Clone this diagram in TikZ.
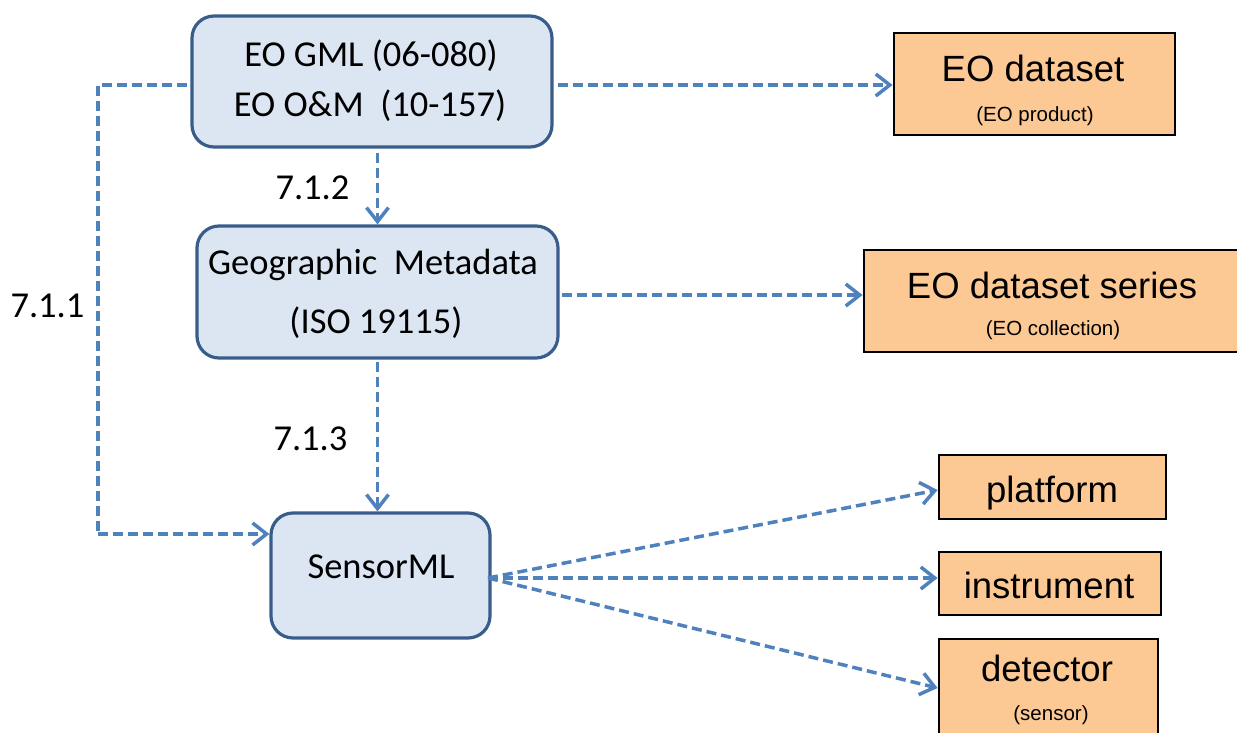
\documentclass[tikz,border=0pt]{standalone}
\usepackage{fontspec}
\setmainfont{Carlito}
\newfontfamily\arialfont{Liberation Sans}
\usetikzlibrary{arrows.meta,calc}
\definecolor{linkblue}{RGB}{79,129,189}
\definecolor{boxfill}{RGB}{220,230,242}
\definecolor{boxline}{RGB}{56,93,138}
\definecolor{orangefill}{RGB}{252,201,149}
\tikzset{
  bluebox/.style={draw=boxline, fill=boxfill, line width=3.2pt, rounded corners=22pt, inner sep=0pt},
  orangebox/.style={draw=black, fill=orangefill, line width=2.8pt, inner sep=0pt},
  bigtxt/.style={anchor=base, inner sep=0pt, font=\fontsize{36.5}{44}\selectfont},
  arialbig/.style={anchor=base, inner sep=0pt, font=\arialfont\fontsize{36.5}{44}\selectfont},
  arialsmall/.style={anchor=base, inner sep=0pt, font=\arialfont\fontsize{20.5}{24}\selectfont},
  conn/.style={draw=linkblue, line width=3.5pt, dash pattern=on 10pt off 5pt,
    -{Straight Barb[length=14pt,width=22pt,line width=3.5pt]}},
  connplain/.style={draw=linkblue, line width=3.5pt, dash pattern=on 10pt off 5pt}
}
\begin{document}
\begin{tikzpicture}[x=1pt,y=-1pt]
\useasboundingbox (0,0) rectangle (1237,733);
% blue boxes
\node[bluebox, minimum width=360pt, minimum height=131pt] (gml) at (372,81.5) {};
\node[bluebox, minimum width=361pt, minimum height=132pt] (geo) at (377.5,292) {};
\node[bluebox, minimum width=219pt, minimum height=125pt] (sml) at (380.5,575.5) {};
% orange boxes
\node[orangebox, minimum width=281pt, minimum height=102pt] (eod) at (1034.5,84) {};
\node[orangebox, minimum width=374pt, minimum height=102pt] (eos) at (1051,301) {};
\node[orangebox, minimum width=227pt, minimum height=64pt] (plat) at (1052.5,487) {};
\node[orangebox, minimum width=222pt, minimum height=63pt] (inst) at (1050,583.5) {};
\node[orangebox, minimum width=219pt, minimum height=111pt] (det) at (1048.5,694.5) {};
% texts in blue boxes
\node[bigtxt] (gmlA) at (371,67) {EO GML (06-080)};
\node[bigtxt] (gmlB) at (370,117) {EO O\&M\ \ (10-157)};
\node[bigtxt] (geoA) at (373,274) {Geographic\ \ Metadata};
\node[bigtxt] (geoB) at (376,333) {(ISO 19115)};
\node[bigtxt] (smlA) at (381,578) {SensorML};
% texts in orange boxes
\node[arialbig] (eodA) at (1033,82) {EO dataset};
\node[arialsmall] (eodB) at (1035,122) {(EO product)};
\node[arialbig] (eosA) at (1052,298) {EO dataset series};
\node[arialsmall] (eosB) at (1053,335) {(EO collection)};
\node[arialbig] (platA) at (1052,502) {platform};
\node[arialbig] (instA) at (1049,598) {instrument};
\node[arialbig] (detA) at (1047,681) {detector};
\node[arialsmall] (detB) at (1051,720) {(sensor)};
% section labels
\node[bigtxt] (l711) at (47.5,317) {7.1.1};
\node[bigtxt] (l712) at (312.5,199) {7.1.2};
\node[bigtxt] (l713) at (310.5,450) {7.1.3};
% helper coordinates
\coordinate (vx) at (377.5,0);
\coordinate (ytop) at (0,85);
\coordinate (c1) at (98,85);
\coordinate (c2) at (98,534);
\coordinate (yeos) at (0,295);
\coordinate (sout) at (488,578);
\coordinate (pin) at (0,490);
\coordinate (iin) at (0,578);
\coordinate (din) at (0,688);
% connectors
\draw[connplain] ($(c1 -| gml.west)+(-3,0)$) -- (c1) -- (c2);
\draw[conn] (c2) -- (c2 -| sml.west);
\draw[conn] ($(ytop -| gml.east)+(4,0)$) -- (ytop -| eod.west);
\draw[conn] ($(gml.south -| vx)+(0,4)$) -- (geo.north -| vx);
\draw[conn] ($(yeos -| geo.east)+(2,0)$) -- (yeos -| eos.west);
\draw[conn] ($(geo.south -| vx)+(0,2)$) -- (sml.north -| vx);
\draw[conn] (sout) -- (pin -| plat.west);
\draw[conn] (sout) -- (iin -| inst.west);
\draw[conn] (sout) -- (din -| det.west);
\end{tikzpicture}
\end{document}
